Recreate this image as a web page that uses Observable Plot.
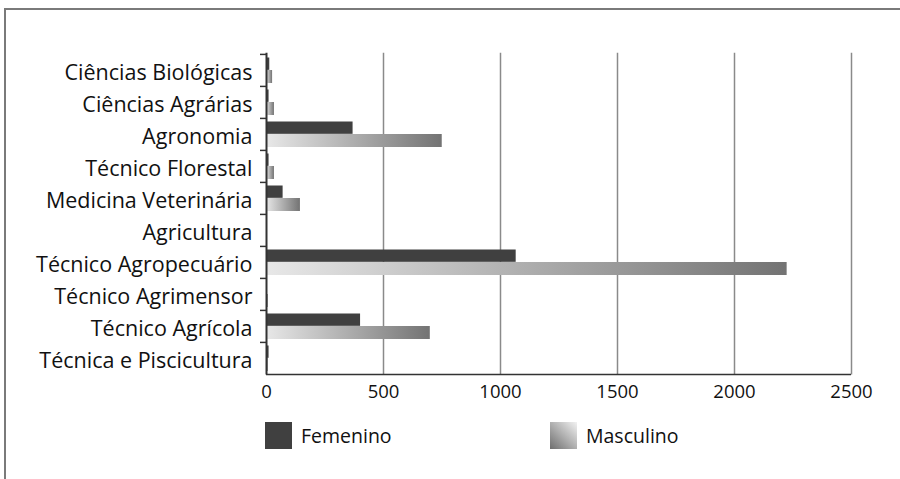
<!DOCTYPE html>
<html>
<head>
<meta charset="utf-8">
<script src="https://cdn.jsdelivr.net/npm/d3@7"></script>
<script src="https://cdn.jsdelivr.net/npm/@observablehq/plot@0.6"></script>
<style>
  html, body { margin: 0; padding: 0; background: #fff; }
  #wrap { position: relative; width: 900px; height: 479px; overflow: hidden; font-family: "Open Sans", sans-serif; }
  #frameTop { position: absolute; left: 4px; top: 8px; width: 896px; height: 1.5px; background: #7a7a7a; }
  #frameLeft { position: absolute; left: 4px; top: 8px; width: 1.5px; height: 471px; background: #7a7a7a; }
  #chart { position: absolute; left: 0; top: 0; }
  .leg { position: absolute; display: flex; align-items: center; font-size: 19.5px; color: #111; }
  .sw { width: 27px; height: 27px; margin-right: 9px; }
</style>
</head>
<body>
<div id="wrap">
  <div id="frameTop"></div>
  <div id="frameLeft"></div>
  <div id="chart"></div>
  <div class="leg" style="left:265px; top:422px;"><div class="sw" style="background:#404040"></div><span id="lf"></span></div>
  <div class="leg" style="left:550px; top:422px;"><div class="sw" style="background:linear-gradient(to top right,#6e6e6e,#f2f2f2)"></div><span id="lm"></span></div>
</div>
<script>
const categories = ["Ciências Biológicas","Ciências Agrárias","Agronomia","Técnico Florestal","Medicina Veterinária","Agricultura","Técnico Agropecuário","Técnico Agrimensor","Técnico Agrícola","Técnica e Piscicultura"];
const femenino  = [14, 11, 370, 11, 71, 0, 1067, 0, 402, 11];
const masculino = [26, 34, 751, 34, 145, 0, 2225, 8, 700, 8];
const xTicks = [0, 500, 1000, 1500, 2000, 2500];
const seriesNames = ["Femenino", "Masculino"];

const data = categories.map((c, i) => ({category: c, femenino: femenino[i], masculino: masculino[i]}));

const H = 410, mTop = 52.7, mBottom = 35.5;
const band = (H - mTop - mBottom) / categories.length;

const chart = Plot.plot({
  width: 900,
  height: H,
  marginLeft: 266,
  marginRight: 49,
  marginTop: mTop,
  marginBottom: mBottom,
  style: {fontFamily: "'Open Sans', sans-serif", color: "#111", background: "transparent", overflow: "visible"},
  x: {domain: [0, 2500]},
  y: {domain: categories, padding: 0},
  marks: [
    Plot.gridX(xTicks.slice(1), {stroke: "#8a8a8a", strokeOpacity: 1, strokeWidth: 1.5}),
    Plot.barX(data, {y: "category", x: "femenino", fill: "#404040", insetTop: 3.5, insetBottom: band - 16}),
    Plot.barX(data, {y: "category", x: "masculino", fill: "url(#mgrad)", insetTop: 16, insetBottom: 3}),
    Plot.axisY({tickSize: 0, tickPadding: 14, fontSize: 21.5, dy: 2.5, label: null}),
    Plot.axisY({tickSize: 6, text: null, dy: -band / 2, stroke: "#333", strokeWidth: 1.5, label: null}),
    Plot.ruleX([0], {stroke: "#333", strokeWidth: 2}),
    Plot.ruleY([categories[categories.length - 1]], {y: d => d, dy: band / 2, x1: 0, x2: 2500, stroke: "#333", strokeWidth: 1.5}),
    Plot.axisX({ticks: xTicks, tickSize: 0, tickPadding: 10, fontSize: 18.5, tickFormat: d3.format("d"), label: null})
  ]
});

d3.select(chart).insert("defs", ":first-child").html(
  '<linearGradient id="mgrad" x1="0" y1="0" x2="1" y2="0">' +
  '<stop offset="0" stop-color="#e8e8e8"/><stop offset="1" stop-color="#737373"/></linearGradient>'
);

document.getElementById("chart").appendChild(chart);
document.getElementById("lf").textContent = seriesNames[0];
document.getElementById("lm").textContent = seriesNames[1];
</script>
</body>
</html>
